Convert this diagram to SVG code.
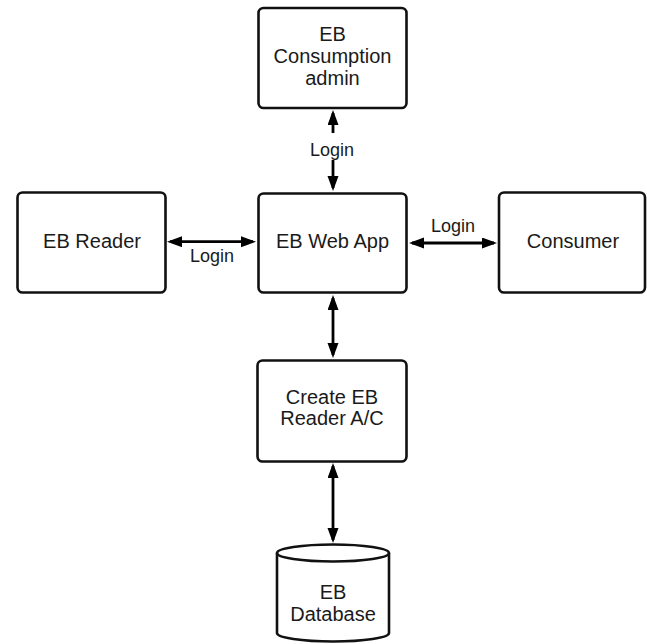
<svg xmlns="http://www.w3.org/2000/svg" width="647" height="644" viewBox="0 0 647 644">
  <defs>
    <style>
      .box { fill: #ffffff; stroke: #111111; stroke-width: 2.6; }
      .lbl { font-family: "Liberation Sans", Arial, sans-serif; font-size: 20px; fill: #1a1a1a; text-anchor: middle; }
      .elbl { font-family: "Liberation Sans", Arial, sans-serif; font-size: 18px; fill: #1a1a1a; text-anchor: middle; }
      .conn { stroke: #000000; stroke-width: 2.8; fill: none; marker-start: url(#arr); marker-end: url(#arr); }
    </style>
    <marker id="arr" markerUnits="userSpaceOnUse" markerWidth="16" markerHeight="12" refX="12" refY="5.5" orient="auto-start-reverse">
      <path d="M0,0 L15,5.5 L0,11 Z" fill="#000000"/>
    </marker>
  </defs>
  <rect width="647" height="644" fill="#ffffff"/>

  <g id="connectors">
    <line class="conn" x1="333" y1="113" x2="333" y2="188"/>
    <rect x="308" y="133" width="50" height="27" fill="#ffffff"/>
    <text class="elbl" x="332" y="156">Login</text>

    <line class="conn" x1="170" y1="241.7" x2="253" y2="241.7"/>
    <text class="elbl" x="212" y="261.5">Login</text>

    <line class="conn" x1="412" y1="243" x2="494" y2="243"/>
    <text class="elbl" x="453" y="232.3">Login</text>

    <line class="conn" x1="333" y1="298" x2="333" y2="355"/>
    <line class="conn" x1="333" y1="466" x2="333" y2="540"/>
  </g>

  <g id="node-admin">
    <rect class="box" x="258.5" y="8" width="148" height="100" rx="5"/>
    <text class="lbl" x="332.5" y="41">EB</text>
    <text class="lbl" x="332.5" y="63">Consumption</text>
    <text class="lbl" x="332.5" y="85">admin</text>
  </g>

  <g id="node-webapp">
    <rect class="box" x="258.5" y="193.5" width="148" height="99" rx="5"/>
    <text class="lbl" x="332.5" y="248.3">EB Web App</text>
  </g>

  <g id="node-reader">
    <rect class="box" x="17.5" y="192.5" width="148" height="100" rx="5"/>
    <text class="lbl" x="92" y="248.3">EB Reader</text>
  </g>

  <g id="node-consumer">
    <rect class="box" x="499" y="192.5" width="146" height="100" rx="5"/>
    <text class="lbl" x="573" y="248.3">Consumer</text>
  </g>

  <g id="node-create">
    <rect class="box" x="257.5" y="360.5" width="149" height="101" rx="5"/>
    <text class="lbl" x="332" y="404">Create EB</text>
    <text class="lbl" x="332" y="425">Reader A/C</text>
  </g>

  <g id="node-database">
    <path class="box" d="M277,553 L277,633 A56,8.5 0 0 0 389,633 L389,553"/>
    <ellipse class="box" cx="333" cy="553" rx="56" ry="8.5"/>
    <text class="lbl" x="333" y="599">EB</text>
    <text class="lbl" x="333" y="621">Database</text>
  </g>
</svg>
